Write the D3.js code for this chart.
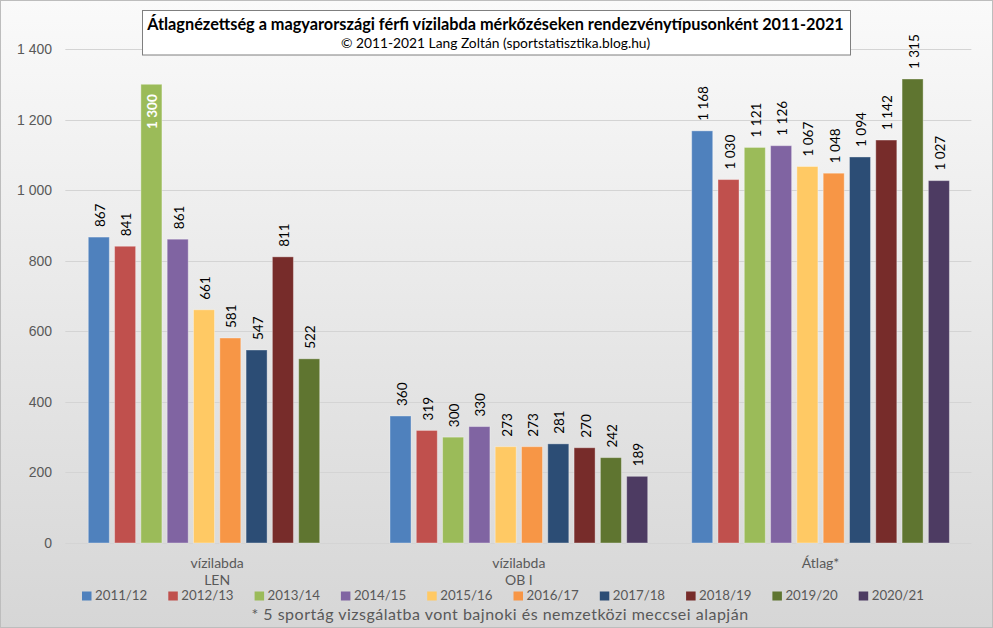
<!DOCTYPE html>
<html><head><meta charset="utf-8">
<script src="https://cdn.jsdelivr.net/npm/d3@7"></script>
<style>body{margin:0;background:#fff}svg{display:block}text{font-family:Lato,"Open Sans",sans-serif}</style>
</head><body><svg id="c" width="993" height="628"></svg>
<script>
const categories = [["vízilabda","LEN"],["vízilabda","OB I"],["Átlag*"]];
const seasons = ["2011/12","2012/13","2013/14","2014/15","2015/16","2016/17","2017/18","2018/19","2019/20","2020/21"];
const colors = ["#4F81BD","#C0504D","#9BBB59","#8064A2","#FFC964","#F79646","#2C4D75","#772C2A","#5F7530","#4D3B62"];
const lenValues  = [867, 841, 1300, 861, 661, 581, 547, 811, 522, null];
const ob1Values  = [360, 319, 300, 330, 273, 273, 281, 270, 242, 189];
const avgValues  = [1168, 1030, 1121, 1126, 1067, 1048, 1094, 1142, 1315, 1027];
const yTicks = [0,200,400,600,800,1000,1200,1400];
const title = "Átlagnézettség a magyarországi férfi vízilabda mérkőzéseken rendezvénytípusonként 2011-2021";
const subtitle = "© 2011-2021 Lang Zoltán (sportstatisztika.blog.hu)";
const footnote = "* 5 sportág vizsgálatba vont bajnoki és nemzetközi meccsei alapján";
// labels drawn inside the bar end (category index, season index)
const insideLabels = [[0, 2]];

(function(){
const series = [lenValues, ob1Values, avgValues];
const svg = d3.select("#c");
const W = 993, H = 628;

const defs = svg.append("defs");
const g1 = defs.append("linearGradient").attr("id","bg").attr("x1",0).attr("y1",0).attr("x2",0).attr("y2",1);
g1.append("stop").attr("offset","0%").attr("stop-color","#fafafa");
g1.append("stop").attr("offset","100%").attr("stop-color","#d6d6d6");
svg.append("rect").attr("x",0.5).attr("y",0.5).attr("width",W-1).attr("height",H-1)
  .attr("fill","url(#bg)").attr("stroke","#bdbdbd");

const pLeft = 66.3, pRight = 971.4, pTop = 49, pBottom = 543;
const y = d3.scaleLinear().domain([0,1400]).range([pBottom, pTop]);
const x0 = d3.scaleBand().domain(d3.range(categories.length)).range([pLeft,pRight]).paddingInner(0).paddingOuter(0);
const x1 = d3.scaleBand().domain(d3.range(seasons.length)).range([0, x0.bandwidth()]).paddingInner(0.2).paddingOuter(0.836);

const fmt = v => d3.format(",")(v).replace(/,/g," ");

// grid
svg.append("g").selectAll("line").data(yTicks).join("line")
  .attr("x1",pLeft-1).attr("x2",pRight).attr("y1",d=>Math.round(y(d))+0.5).attr("y2",d=>Math.round(y(d))+0.5)
  .attr("stroke","#d4d4d4").attr("stroke-width",1);
svg.append("g").selectAll("text").data(yTicks).join("text")
  .attr("x",52).attr("y",d=>y(d)+5).attr("text-anchor","end")
  .style("font-family","'Liberation Sans',sans-serif").attr("font-size",14).attr("fill","#595959")
  .text(d=>fmt(d));

// bars
const groups = svg.append("g").selectAll("g").data(series).join("g")
  .attr("transform",(d,i)=>`translate(${x0(i)},0)`);
groups.each(function(vals, gi){
  const g = d3.select(this);
  const data = vals.map((v,j)=>({v,j})).filter(d=>d.v!=null);
  const inside = d => insideLabels.some(p=>p[0]===gi && p[1]===d.j);
  g.selectAll("rect").data(data).join("rect")
    .attr("x",d=>x1(d.j)).attr("width",x1.bandwidth())
    .attr("y",d=>y(d.v)).attr("height",d=>pBottom-y(d.v))
    .attr("fill",d=>colors[d.j]).attr("stroke","rgba(255,255,255,0.35)").attr("stroke-width",1);
  g.selectAll("text").data(data).join("text")
    .attr("transform",d=>{
      const cx = x1(d.j)+x1.bandwidth()/2+6;
      const yy = inside(d) ? y(d.v)+10 : y(d.v)-10;
      return `translate(${cx},${yy}) rotate(-90)`;
    })
    .attr("text-anchor",d=> inside(d) ? "end" : "start")
    .attr("font-size",13.5)
    .attr("fill",d=> inside(d) ? "#fff" : "#000")
    .attr("font-weight",d=> inside(d) ? "bold" : "normal")
    .text(d=>fmt(d.v));
});

// category labels
svg.append("g").selectAll("text").data(categories).join("text")
  .attr("x",(d,i)=>x0(i)+x0.bandwidth()/2).attr("y",568)
  .attr("text-anchor","middle").attr("font-size",14).attr("fill","#595959")
  .each(function(d){
    const t = d3.select(this);
    d.forEach((s,k)=>t.append("tspan").attr("x",t.attr("x")).attr("dy",k?17:0).text(s));
  });

// legend
const lg = svg.append("g").selectAll("g").data(seasons).join("g")
  .attr("transform",(d,i)=>`translate(${82+i*86.3},591.5)`);
lg.append("rect").attr("x",0).attr("y",0).attr("width",9.5).attr("height",9).attr("fill",(d,i)=>colors[i]);
lg.append("text").attr("x",13).attr("y",8.3).attr("font-size",13.3).attr("fill","#595959").text(d=>d);

// footnote
svg.append("text").attr("x",500).attr("y",619.5).attr("text-anchor","middle")
  .attr("font-size",16).attr("letter-spacing",0.5).attr("fill","#595959").text(footnote);

// title box
svg.append("rect").attr("x",142.5).attr("y",10.5).attr("width",708).attr("height",44.5)
  .attr("fill","#fff").attr("stroke","#7f7f7f");
svg.append("text").attr("x",495.5).attr("y",29.5).attr("text-anchor","middle")
  .attr("font-size",16.3).attr("font-weight","bold").attr("fill","#000").text(title);
svg.append("text").attr("x",495.5).attr("y",48).attr("text-anchor","middle")
  .attr("font-size",13.8).attr("fill","#000").text(subtitle);
})();
</script></body></html>
